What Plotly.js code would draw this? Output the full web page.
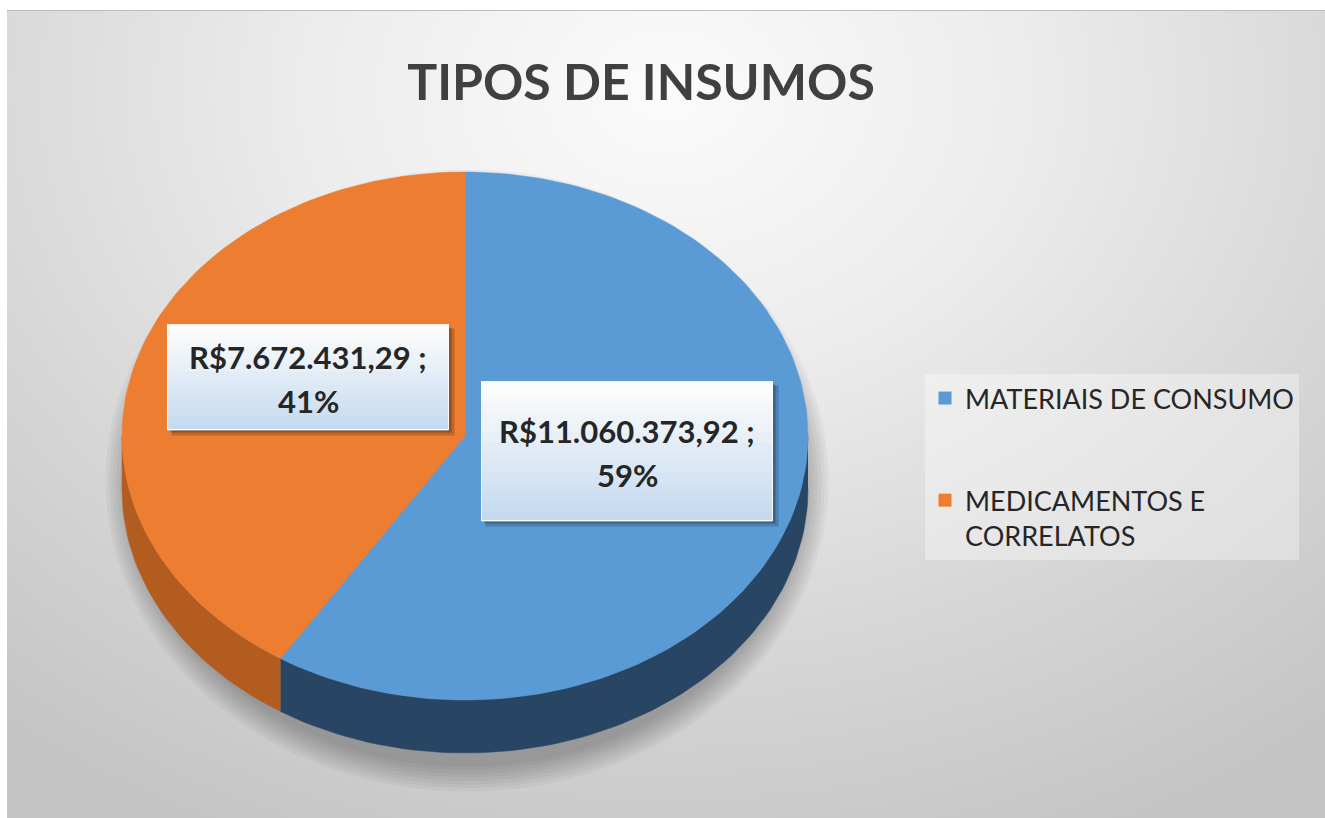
<!DOCTYPE html>
<html>
<head>
<meta charset="utf-8">
<script src="https://cdn.plot.ly/plotly-3.0.1.min.js"></script>
<style>
  html, body { margin:0; padding:0; background:#ffffff; width:1325px; height:818px; overflow:hidden; }
  #bg { position:absolute; left:7px; top:10px; width:1318px; height:808px;
        border-top:1px solid #bcbcbc; box-sizing:border-box;
        background: radial-gradient(ellipse 78% 100% at 50% 10%, #fbfbfb 0%, #ececec 35%, #d6d6d6 70%, #c5c5c5 100%); }
  #chart { position:absolute; left:0; top:0; width:1325px; height:818px; }
</style>
</head>
<body>
<div id="bg"></div>
<div id="chart"></div>
<script>
// ---- data ----
const categories = ['MATERIAIS DE CONSUMO', 'MEDICAMENTOS E CORRELATOS'];
const legendNames = ['MATERIAIS DE CONSUMO', 'MEDICAMENTOS E<br>CORRELATOS'];
const values = [11060373.92, 7672431.29];
const topColors = ['#5b9bd5', '#ed7d31'];
const sideColors = ['#284664', '#b35c20'];
const chartTitle = 'TIPOS DE INSUMOS';

// ---- geometry (layout) ----
const W = 1325, H = 818;
const cx = 465, cy = 436, rx = 343, ry = 264, depth = 53;
const labelBoxes = [ // center positions / sizes of the data-label boxes
  {x: 627, y: 451, w: 290, h: 138},
  {x: 308, y: 377, w: 280, h: 104}
];

function fmtBRL(v) {
  const parts = v.toFixed(2).split('.');
  const int = parts[0].replace(/\B(?=(\d{3})+(?!\d))/g, '.');
  return 'R$' + int + ',' + parts[1];
}
function pt(t, dy) {
  const r = t * Math.PI / 180;
  return [cx + rx * Math.cos(r), cy - ry * Math.sin(r) + (dy || 0)];
}
function arc(t0, t1, dy) {
  const n = Math.max(2, Math.ceil(Math.abs(t1 - t0) / 1.5));
  const xs = [], ys = [];
  for (let i = 0; i <= n; i++) {
    const p = pt(t0 + (t1 - t0) * i / n, dy);
    xs.push(p[0]); ys.push(p[1]);
  }
  return [xs, ys];
}

const total = values.reduce((a, b) => a + b, 0);
const traces = [];

// soft shadow under the pie
for (let k = 7; k >= 0; k--) {
  const xs = [], ys = [];
  for (let i = 0; i <= 240; i++) {
    const r = i / 240 * 2 * Math.PI;
    xs.push(cx + 2 + (rx - 6 + k * 3.5) * Math.cos(r));
    ys.push(cy + depth / 2 + 18 + (ry + depth / 2 - 4 + k * 3.5) * Math.sin(r));
  }
  traces.push({type: 'scatter', mode: 'lines', x: xs, y: ys, fill: 'toself',
    fillcolor: 'rgba(0,0,0,0.035)', line: {width: 0}, hoverinfo: 'skip', showlegend: false});
}

// slices
let start = 90;
const slices = [];
values.forEach((v, i) => {
  const sweep = v / total * 360;
  const a0 = start, a1 = start - sweep;
  slices.push({a0, a1, i});
  start = a1;
});

// side walls (front half: t in [-180, 0])
slices.forEach(s => {
  const lo = Math.max(s.a1, -180), hi = Math.min(s.a0, 0);
  if (hi > lo) {
    const top = arc(hi, lo, 0), bot = arc(lo, hi, depth);
    traces.push({type: 'scatter', mode: 'lines', x: top[0].concat(bot[0]), y: top[1].concat(bot[1]),
      fill: 'toself', fillcolor: sideColors[s.i], line: {width: 0.5, color: sideColors[s.i]},
      hoverinfo: 'skip', showlegend: false});
  }
});
// top faces
slices.forEach(s => {
  const a = arc(s.a0, s.a1, 0);
  traces.push({type: 'scatter', mode: 'lines', x: [cx].concat(a[0], [cx]), y: [cy].concat(a[1], [cy]),
    fill: 'toself', fillcolor: topColors[s.i], line: {width: 0.5, color: topColors[s.i]},
    name: categories[s.i], hoverinfo: 'name', showlegend: false});
});
// legend entries
categories.forEach((c, i) => {
  traces.push({type: 'scatter', mode: 'markers', x: [null], y: [null], name: legendNames[i],
    legendgroup: 'g' + i, marker: {symbol: 'square', size: 13, color: topColors[i]}, showlegend: true});
});

// data labels
const annotations = [];
const top0 = [252, 252, 252], bot0 = [197, 218, 239];
const labelFont = {family: 'Lato, "Open Sans", sans-serif', size: 31, color: '#262626', weight: 'bold'};
values.forEach((v, i) => {
  const b = labelBoxes[i];
  const topY = b.y - b.h / 2;
  // shadow
  annotations.push({x: b.x + 5, y: b.y + 5, xref: 'x', yref: 'y', text: ' ', showarrow: false,
    width: b.w + 2, height: b.h + 2, bgcolor: 'rgba(0,0,0,0.18)', borderpad: 0});
  annotations.push({x: b.x + 3, y: b.y + 3, xref: 'x', yref: 'y', text: ' ', showarrow: false,
    width: b.w, height: b.h, bgcolor: 'rgba(0,0,0,0.22)', borderpad: 0});
  // gradient bands
  const N = 14;
  for (let j = 0; j < N; j++) {
    const f = j / (N - 1);
    const col = bot0.map((c, k) => Math.round(c + (top0[k] - c) * f));
    const hh = b.h * (1 - j / N);
    annotations.push({x: b.x, y: topY, xref: 'x', yref: 'y', yanchor: 'top', text: ' ', showarrow: false,
      width: b.w, height: hh, bgcolor: 'rgb(' + col.join(',') + ')', borderpad: 0});
  }
  // border
  annotations.push({x: b.x, y: b.y, xref: 'x', yref: 'y', text: ' ', showarrow: false,
    width: b.w, height: b.h, borderpad: 0, bordercolor: 'rgba(255,255,255,0.9)', borderwidth: 1});
  const pct = Math.round(v / total * 100) + '%';
  annotations.push({x: b.x, y: b.y - 20, xref: 'x', yref: 'y', showarrow: false,
    text: fmtBRL(v) + ' ;', font: labelFont});
  annotations.push({x: b.x, y: b.y + 24, xref: 'x', yref: 'y', showarrow: false,
    text: pct, font: labelFont});
});

const layout = {
  width: W, height: H,
  margin: {l: 0, r: 0, t: 0, b: 0},
  paper_bgcolor: 'rgba(0,0,0,0)', plot_bgcolor: 'rgba(0,0,0,0)',
  title: {text: '<b>' + chartTitle + '</b>', x: 641 / W, xanchor: 'center', xref: 'container',
    y: 1 - 82 / H, yanchor: 'middle', yref: 'container',
    font: {family: 'Lato, "Open Sans", sans-serif', size: 50, color: '#404040'}},
  xaxis: {range: [0, W], visible: false, fixedrange: true, showgrid: false, zeroline: false},
  yaxis: {range: [H, 0], visible: false, fixedrange: true, showgrid: false, zeroline: false},
  showlegend: true,
  legend: {x: 925 / W, y: 1 - 374 / H, xanchor: 'left', yanchor: 'top', xref: 'paper', yref: 'paper',
    bgcolor: 'rgba(255,255,255,0.35)', borderwidth: 0, valign: 'top', tracegroupgap: 64,
    font: {family: 'Lato, "Open Sans", sans-serif', size: 27, color: '#262626'}},
  annotations: annotations
};

Plotly.newPlot('chart', traces, layout, {staticPlot: true, displayModeBar: false});
</script>
</body>
</html>
